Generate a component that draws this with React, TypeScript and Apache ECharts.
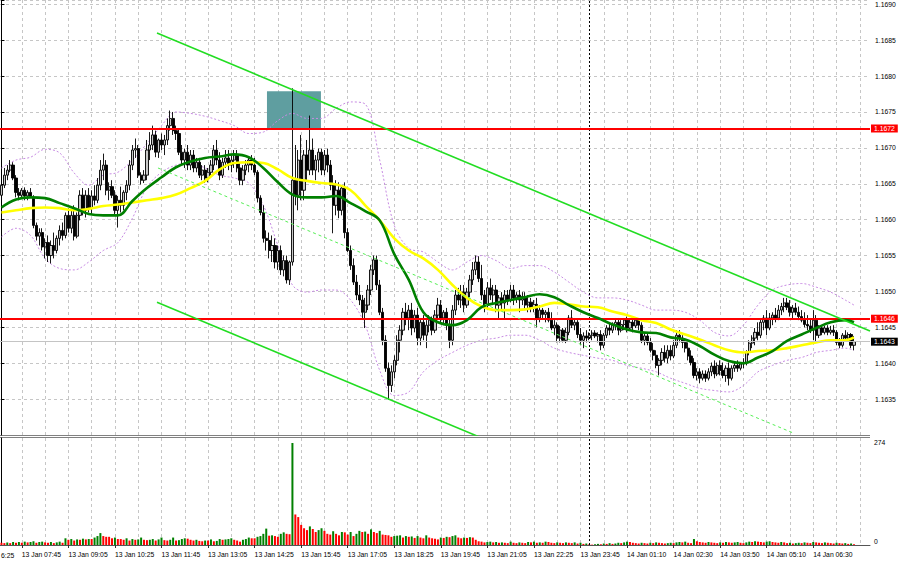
import React, { useEffect, useRef } from "react";
import * as echarts from "echarts";

// ---------- data (EURUSD M5, 13 Jan 07:10 – 14 Jan 07:40) ----------
const opens = [
1.16634,1.16648,1.16662,1.16669,1.16676,1.16658,1.16638,1.16634,1.16641,1.16633,
1.16638,1.16631,1.16592,1.16577,1.16582,1.16562,1.16568,1.16550,1.16564,1.16557,
1.16574,1.16585,1.16578,1.16606,1.16588,1.16606,1.16577,1.16606,1.16634,1.16613,
1.16634,1.16616,1.16633,1.16627,1.16648,1.16669,1.16676,1.16641,1.16646,1.16634,
1.16613,1.16627,1.16620,1.16638,1.16648,1.16676,1.16697,1.16699,1.16662,1.16655,
1.16662,1.16697,1.16704,1.16718,1.16694,1.16711,1.16704,1.16711,1.16731,1.16741,
1.16724,1.16720,1.16694,1.16683,1.16694,1.16676,1.16690,1.16672,1.16680,1.16662,
1.16669,1.16658,1.16666,1.16676,1.16697,1.16683,1.16662,1.16680,1.16686,1.16676,
1.16683,1.16690,1.16672,1.16655,1.16669,1.16676,1.16683,1.16676,1.16666,1.16630,
1.16610,1.16574,1.16571,1.16557,1.16564,1.16541,1.16557,1.16530,1.16543,1.16516,
1.16541,1.16655,1.16634,1.16683,1.16641,1.16690,1.16669,1.16697,1.16669,1.16683,
1.16694,1.16669,1.16690,1.16676,1.16648,1.16620,1.16641,1.16613,1.16644,1.16582,
1.16557,1.16536,1.16513,1.16495,1.16488,1.16471,1.16481,1.16502,1.16530,1.16544,
1.16509,1.16471,1.16432,1.16393,1.16369,1.16388,1.16404,1.16432,1.16446,1.16471,
1.16463,1.16474,1.16449,1.16467,1.16435,1.16457,1.16439,1.16453,1.16460,1.16446,
1.16467,1.16481,1.16463,1.16471,1.16453,1.16432,1.16474,1.16495,1.16488,1.16499,
1.16481,1.16499,1.16516,1.16530,1.16541,1.16518,1.16495,1.16481,1.16505,1.16495,
1.16502,1.16481,1.16491,1.16484,1.16495,1.16488,1.16502,1.16491,1.16495,1.16488,
1.16493,1.16481,1.16485,1.16477,1.16482,1.16463,1.16474,1.16468,1.16471,1.16460,
1.16449,1.16453,1.16435,1.16446,1.16432,1.16443,1.16463,1.16453,1.16457,1.16440,
1.16432,1.16438,1.16435,1.16439,1.16442,1.16438,1.16440,1.16425,1.16439,1.16449,
1.16446,1.16453,1.16457,1.16446,1.16454,1.16460,1.16449,1.16457,1.16452,1.16460,
1.16453,1.16432,1.16438,1.16429,1.16418,1.16411,1.16397,1.16404,1.16415,1.16407,
1.16418,1.16410,1.16425,1.16439,1.16435,1.16429,1.16421,1.16410,1.16401,1.16383,
1.16388,1.16379,1.16385,1.16379,1.16388,1.16396,1.16385,1.16397,1.16390,1.16383,
1.16393,1.16379,1.16393,1.16397,1.16393,1.16399,1.16401,1.16415,1.16428,1.16435,
1.16443,1.16439,1.16457,1.16463,1.16449,1.16463,1.16467,1.16463,1.16474,1.16479,
1.16484,1.16478,1.16471,1.16477,1.16471,1.16465,1.16460,1.16454,1.16452,1.16446,
1.16460,1.16439,1.16449,1.16443,1.16449,1.16443,1.16446,1.16443,1.16429,1.16425,
1.16439,1.16435,1.16440,1.16425
];
const highs = [
1.16658,1.16672,1.16676,1.16683,1.16680,1.16662,1.16644,1.16644,1.16645,1.16641,
1.16644,1.16634,1.16596,1.16588,1.16588,1.16574,1.16578,1.16571,1.16582,1.16578,
1.16592,1.16596,1.16610,1.16616,1.16613,1.16620,1.16610,1.16641,1.16644,1.16641,
1.16644,1.16641,1.16648,1.16658,1.16683,1.16692,1.16683,1.16652,1.16655,1.16641,
1.16633,1.16646,1.16641,1.16655,1.16683,1.16704,1.16713,1.16704,1.16666,1.16669,
1.16711,1.16722,1.16731,1.16724,1.16713,1.16720,1.16718,1.16741,1.16752,1.16750,
1.16731,1.16727,1.16704,1.16699,1.16704,1.16697,1.16697,1.16686,1.16686,1.16676,
1.16676,1.16672,1.16683,1.16704,1.16711,1.16694,1.16686,1.16697,1.16697,1.16690,
1.16697,1.16697,1.16680,1.16676,1.16683,1.16686,1.16690,1.16686,1.16669,1.16634,
1.16620,1.16585,1.16582,1.16578,1.16574,1.16564,1.16564,1.16550,1.16550,1.16543,
1.16783,1.16704,1.16697,1.16718,1.16697,1.16711,1.16745,1.16713,1.16690,1.16699,
1.16699,1.16697,1.16699,1.16683,1.16662,1.16655,1.16652,1.16648,1.16652,1.16588,
1.16564,1.16546,1.16523,1.16509,1.16495,1.16491,1.16509,1.16537,1.16550,1.16550,
1.16516,1.16477,1.16439,1.16401,1.16397,1.16411,1.16439,1.16453,1.16477,1.16484,
1.16481,1.16484,1.16474,1.16477,1.16463,1.16467,1.16460,1.16467,1.16465,1.16474,
1.16491,1.16488,1.16474,1.16477,1.16463,1.16481,1.16502,1.16505,1.16509,1.16509,
1.16505,1.16523,1.16541,1.16550,1.16549,1.16537,1.16502,1.16513,1.16518,1.16509,
1.16509,1.16495,1.16499,1.16502,1.16502,1.16509,1.16509,1.16499,1.16502,1.16499,
1.16499,1.16495,1.16491,1.16488,1.16491,1.16481,1.16477,1.16474,1.16477,1.16471,
1.16460,1.16457,1.16452,1.16449,1.16449,1.16467,1.16474,1.16463,1.16460,1.16449,
1.16443,1.16446,1.16443,1.16446,1.16446,1.16443,1.16446,1.16442,1.16453,1.16457,
1.16457,1.16463,1.16463,1.16460,1.16463,1.16465,1.16463,1.16463,1.16463,1.16463,
1.16457,1.16442,1.16443,1.16435,1.16428,1.16418,1.16407,1.16421,1.16425,1.16425,
1.16425,1.16432,1.16446,1.16446,1.16439,1.16435,1.16429,1.16418,1.16407,1.16393,
1.16393,1.16390,1.16390,1.16393,1.16401,1.16404,1.16401,1.16404,1.16401,1.16397,
1.16401,1.16397,1.16401,1.16404,1.16401,1.16407,1.16418,1.16432,1.16439,1.16449,
1.16457,1.16463,1.16467,1.16474,1.16470,1.16471,1.16477,1.16481,1.16484,1.16491,
1.16491,1.16488,1.16481,1.16484,1.16479,1.16474,1.16471,1.16467,1.16463,1.16474,
1.16467,1.16453,1.16453,1.16452,1.16453,1.16452,1.16453,1.16446,1.16435,1.16442,
1.16446,1.16443,1.16442,1.16438
];
const lows = [
1.16627,1.16644,1.16655,1.16666,1.16655,1.16631,1.16627,1.16630,1.16627,1.16627,
1.16630,1.16588,1.16571,1.16564,1.16557,1.16546,1.16541,1.16539,1.16546,1.16553,
1.16564,1.16571,1.16574,1.16582,1.16581,1.16571,1.16574,1.16599,1.16606,1.16603,
1.16610,1.16607,1.16620,1.16623,1.16641,1.16655,1.16634,1.16627,1.16630,1.16606,
1.16589,1.16610,1.16613,1.16627,1.16641,1.16669,1.16686,1.16658,1.16649,1.16651,
1.16655,1.16683,1.16697,1.16687,1.16686,1.16697,1.16690,1.16704,1.16724,1.16718,
1.16711,1.16690,1.16676,1.16672,1.16669,1.16669,1.16666,1.16666,1.16658,1.16655,
1.16651,1.16652,1.16662,1.16669,1.16676,1.16655,1.16658,1.16672,1.16669,1.16666,
1.16672,1.16666,1.16648,1.16648,1.16662,1.16666,1.16669,1.16662,1.16624,1.16606,
1.16568,1.16557,1.16546,1.16541,1.16532,1.16530,1.16523,1.16521,1.16511,1.16509,
1.16536,1.16620,1.16613,1.16627,1.16627,1.16655,1.16662,1.16662,1.16655,1.16666,
1.16662,1.16662,1.16666,1.16641,1.16581,1.16606,1.16602,1.16606,1.16574,1.16555,
1.16530,1.16509,1.16488,1.16481,1.16463,1.16449,1.16474,1.16495,1.16523,1.16502,
1.16467,1.16425,1.16388,1.16349,1.16360,1.16379,1.16397,1.16415,1.16439,1.16453,
1.16446,1.16439,1.16443,1.16425,1.16425,1.16432,1.16421,1.16443,1.16439,1.16442,
1.16460,1.16457,1.16453,1.16446,1.16421,1.16425,1.16467,1.16481,1.16477,1.16471,
1.16477,1.16492,1.16509,1.16523,1.16513,1.16488,1.16471,1.16474,1.16488,1.16481,
1.16471,1.16463,1.16474,1.16463,1.16481,1.16485,1.16481,1.16484,1.16471,1.16481,
1.16474,1.16471,1.16471,1.16471,1.16450,1.16457,1.16463,1.16457,1.16457,1.16446,
1.16439,1.16429,1.16429,1.16429,1.16428,1.16439,1.16449,1.16446,1.16435,1.16425,
1.16421,1.16429,1.16432,1.16432,1.16435,1.16429,1.16418,1.16421,1.16435,1.16439,
1.16442,1.16446,1.16439,1.16443,1.16446,1.16443,1.16446,1.16443,1.16449,1.16446,
1.16428,1.16425,1.16425,1.16415,1.16404,1.16393,1.16383,1.16397,1.16401,1.16400,
1.16404,1.16407,1.16421,1.16429,1.16421,1.16415,1.16404,1.16397,1.16379,1.16376,
1.16372,1.16376,1.16374,1.16376,1.16382,1.16379,1.16382,1.16383,1.16379,1.16374,
1.16369,1.16376,1.16388,1.16388,1.16390,1.16393,1.16397,1.16411,1.16421,1.16425,
1.16432,1.16435,1.16446,1.16439,1.16446,1.16453,1.16457,1.16460,1.16467,1.16471,
1.16474,1.16465,1.16463,1.16467,1.16460,1.16457,1.16450,1.16446,1.16442,1.16432,
1.16429,1.16435,1.16439,1.16440,1.16439,1.16440,1.16438,1.16425,1.16421,1.16422,
1.16432,1.16432,1.16421,1.16418
];
const closes = [
1.16648,1.16662,1.16669,1.16676,1.16658,1.16638,1.16634,1.16641,1.16633,1.16638,
1.16631,1.16592,1.16577,1.16582,1.16562,1.16568,1.16550,1.16564,1.16557,1.16574,
1.16585,1.16578,1.16606,1.16588,1.16606,1.16577,1.16606,1.16634,1.16613,1.16634,
1.16616,1.16633,1.16627,1.16648,1.16669,1.16676,1.16641,1.16646,1.16634,1.16613,
1.16627,1.16620,1.16638,1.16648,1.16676,1.16697,1.16699,1.16662,1.16655,1.16662,
1.16697,1.16704,1.16718,1.16694,1.16711,1.16704,1.16711,1.16731,1.16741,1.16724,
1.16720,1.16694,1.16683,1.16694,1.16676,1.16690,1.16672,1.16680,1.16662,1.16669,
1.16658,1.16666,1.16676,1.16697,1.16683,1.16662,1.16680,1.16686,1.16676,1.16683,
1.16690,1.16672,1.16655,1.16669,1.16676,1.16683,1.16676,1.16666,1.16630,1.16610,
1.16574,1.16571,1.16557,1.16564,1.16541,1.16557,1.16530,1.16543,1.16516,1.16541,
1.16655,1.16634,1.16683,1.16641,1.16690,1.16669,1.16697,1.16669,1.16683,1.16694,
1.16669,1.16690,1.16676,1.16648,1.16620,1.16641,1.16613,1.16644,1.16582,1.16557,
1.16536,1.16513,1.16495,1.16488,1.16471,1.16481,1.16502,1.16530,1.16544,1.16509,
1.16471,1.16432,1.16393,1.16369,1.16388,1.16404,1.16432,1.16446,1.16471,1.16463,
1.16474,1.16449,1.16467,1.16435,1.16457,1.16439,1.16453,1.16460,1.16446,1.16467,
1.16481,1.16463,1.16471,1.16453,1.16432,1.16474,1.16495,1.16488,1.16499,1.16481,
1.16499,1.16516,1.16530,1.16541,1.16518,1.16495,1.16481,1.16505,1.16495,1.16502,
1.16481,1.16491,1.16484,1.16495,1.16488,1.16502,1.16491,1.16495,1.16488,1.16493,
1.16481,1.16485,1.16477,1.16482,1.16463,1.16474,1.16468,1.16471,1.16460,1.16449,
1.16453,1.16435,1.16446,1.16432,1.16443,1.16463,1.16453,1.16457,1.16440,1.16432,
1.16438,1.16435,1.16439,1.16442,1.16438,1.16440,1.16425,1.16439,1.16449,1.16446,
1.16453,1.16457,1.16446,1.16454,1.16460,1.16449,1.16457,1.16452,1.16460,1.16453,
1.16432,1.16438,1.16429,1.16418,1.16411,1.16397,1.16404,1.16415,1.16407,1.16418,
1.16410,1.16425,1.16439,1.16435,1.16429,1.16421,1.16410,1.16401,1.16383,1.16388,
1.16379,1.16385,1.16379,1.16388,1.16396,1.16385,1.16397,1.16390,1.16383,1.16393,
1.16379,1.16393,1.16397,1.16393,1.16399,1.16401,1.16415,1.16428,1.16435,1.16443,
1.16439,1.16457,1.16463,1.16449,1.16463,1.16467,1.16463,1.16474,1.16479,1.16484,
1.16478,1.16471,1.16477,1.16471,1.16465,1.16460,1.16454,1.16452,1.16446,1.16460,
1.16439,1.16449,1.16443,1.16449,1.16443,1.16446,1.16443,1.16429,1.16425,1.16439,
1.16435,1.16440,1.16425,1.16430
];
const volumes = [
6,5,7,5,8,6,8,6,9,7,8,10,6,8,9,7,6,8,5,7,
9,6,18,14,16,12,15,14,17,15,16,16,20,24,32,24,22,22,18,20,
16,16,14,18,12,16,14,15,20,14,13,14,16,12,15,20,13,12,14,20,
12,13,16,18,17,14,12,14,11,10,12,12,15,10,11,16,14,15,16,18,
14,12,9,14,16,20,18,18,22,24,30,44,25,26,24,22,30,34,30,29,
274,82,75,54,45,40,50,43,35,40,45,38,30,28,37,30,26,35,34,28,
35,24,30,38,35,36,30,42,35,32,38,28,27,26,22,24,25,26,20,24,
22,23,19,24,20,18,26,20,18,17,15,20,19,22,21,24,26,20,18,20,
19,21,20,14,10,9,7,8,9,7,8,6,7,6,5,9,6,5,7,6,
5,8,7,9,6,7,6,9,8,6,5,7,6,5,7,6,5,7,4,6,
3,4,2,1,2,3,2,4,3,5,3,4,6,5,7,9,8,6,5,4,
6,5,4,6,5,7,6,5,4,5,6,5,7,8,7,9,6,5,16,10,
8,7,6,8,7,6,5,7,6,8,7,6,7,8,6,5,7,9,8,10,
9,8,7,9,10,8,7,6,8,7,5,6,4,5,6,5,7,6,5,8,
7,6,5,7,6,5,4,6,5,4,5,3,4,2
];

// indicator lines, sampled at bar indices
const maIndex = [0,5,10,15,20,25,30,35,40,45,50,55,60,65,70,75,80,85,90,95,100,105,110,115,120,125,130,135,140,145,150,155,160,165,170,175,180,185,190,195,200,205,210,215,220,225,230,235,240,245,250,255,260,265,270,275,280,285,290,293];
const maGreen = [
1.16617,1.16628,1.16631,1.16630,1.16623,1.16616,1.16608,1.16606,1.16606,1.16626,
1.16644,1.16659,1.16673,1.16681,1.16686,1.16688,1.16691,1.16687,1.16672,1.16652,
1.16635,1.16631,1.16631,1.16633,1.16623,1.16612,1.16599,1.16552,1.16516,1.16471,
1.16457,1.16453,1.16460,1.16478,1.16484,1.16488,1.16492,1.16496,1.16492,1.16481,
1.16471,1.16463,1.16454,1.16447,1.16443,1.16442,1.16436,1.16433,1.16424,1.16412,
1.16403,1.16400,1.16408,1.16417,1.16431,1.16440,1.16449,1.16457,1.16460,1.16457
];
const maYellow = [
1.16610,1.16613,1.16616,1.16617,1.16616,1.16613,1.16615,1.16619,1.16621,1.16624,
1.16627,1.16630,1.16635,1.16644,1.16654,1.16670,1.16679,1.16680,1.16679,1.16670,
1.16658,1.16654,1.16651,1.16649,1.16641,1.16620,1.16599,1.16574,1.16557,1.16546,
1.16530,1.16509,1.16491,1.16479,1.16474,1.16474,1.16475,1.16479,1.16484,1.16482,
1.16479,1.16478,1.16472,1.16467,1.16460,1.16456,1.16447,1.16440,1.16433,1.16425,
1.16418,1.16415,1.16417,1.16418,1.16421,1.16425,1.16429,1.16432,1.16432,1.16436
];
const bandUpper = [
1.16672,1.16683,1.16687,1.16698,1.16693,1.16665,1.16648,1.16662,1.16666,1.16683,
1.16706,1.16731,1.16750,1.16748,1.16744,1.16738,1.16731,1.16720,1.16722,1.16738,
1.16748,1.16741,1.16741,1.16755,1.16764,1.16761,1.16683,1.16592,1.16560,1.16555,
1.16541,1.16530,1.16541,1.16550,1.16543,1.16532,1.16536,1.16536,1.16527,1.16513,
1.16499,1.16491,1.16491,1.16488,1.16481,1.16474,1.16474,1.16471,1.16460,1.16443,
1.16438,1.16453,1.16481,1.16502,1.16509,1.16511,1.16506,1.16499,1.16488,1.16481
];
const bandLower = [
1.16576,1.16588,1.16578,1.16546,1.16532,1.16530,1.16541,1.16557,1.16568,1.16602,
1.16645,1.16666,1.16676,1.16679,1.16672,1.16662,1.16658,1.16651,1.16620,1.16564,
1.16509,1.16499,1.16502,1.16502,1.16488,1.16453,1.16390,1.16355,1.16360,1.16388,
1.16404,1.16415,1.16425,1.16432,1.16435,1.16439,1.16439,1.16432,1.16421,1.16415,
1.16411,1.16407,1.16404,1.16397,1.16393,1.16388,1.16379,1.16372,1.16365,1.16362,
1.16360,1.16369,1.16388,1.16397,1.16404,1.16408,1.16415,1.16418,1.16421,1.16418
];

// axis labels
const timeLabels = [
"13 Jan 07:45","13 Jan 09:05","13 Jan 10:25","13 Jan 11:45","13 Jan 13:05","13 Jan 14:25",
"13 Jan 15:45","13 Jan 17:05","13 Jan 18:25","13 Jan 19:45","13 Jan 21:05","13 Jan 22:25",
"13 Jan 23:45","14 Jan 01:10","14 Jan 02:30","14 Jan 03:50","14 Jan 05:10","14 Jan 06:30"
];
const leftEdgeLabel = "6:25"; // visible tail of "13 Jan 06:25" at the left edge

// analyst drawings (bar index, price)
const resistanceLevel = 1.16727;
const supportLevel = 1.16462;
const bidPrice = 1.1643;
const channelUpperPts = [[53.45, 1.1686], [298.5, 1.16445]];
const channelLowerPts = [[53.45, 1.16485], [170, 1.162875]];
const channelMidPts = [[53.8, 1.16672], [272, 1.16303]];
const zoneX = [91.25, 109.8];
const zoneY = [1.16779, 1.16727];
const daySeparatorIndex = 202;

const SLOT_COUNT = 299;
const LABEL_FIRST = 7;
const LABEL_STEP = 16;
const GRID_STEP = 8;
const PRICE_MIN = 1.163;
const PRICE_MAX = 1.16906;
const VOL_MAX = 287.4;

const FONT = '"Liberation Sans", Arial, sans-serif';
const FS = 6.8;

export default function App() {
  const ref = useRef<HTMLDivElement>(null);
  useEffect(() => {
    const chart = echarts.init(ref.current!, null, { renderer: "svg" });
    const slots = Array.from({ length: SLOT_COUNT }, (_, i) => String(i));
    const candleData = opens.map((o, i) => [o, closes[i], lows[i], highs[i]]);
    const pair = (xs: number[], ys: number[]) => xs.map((x, i) => [x, ys[i]]);
    const isLabel = (i: number) =>
      i >= LABEL_FIRST && (i - LABEL_FIRST) % LABEL_STEP === 0 && (i - LABEL_FIRST) / LABEL_STEP < timeLabels.length;
    const isGrid = (i: number) => i >= LABEL_FIRST && (i - LABEL_FIRST) % GRID_STEP === 0;
    const trunc4 = (v: number) => (Math.floor(v * 10000 + 1e-6) / 10000).toFixed(4);
    const gridSplit: any = {
      show: true,
      interval: (i: number) => isGrid(i),
      alignWithLabel: true,
      lineStyle: { color: "#c6c6c6", type: [3, 3], width: 1 },
    };
    const levelLabel = (bg: string, v: number) => ({
      show: true,
      position: "end",
      distance: 1,
      formatter: trunc4(v),
      color: "#ffffff",
      backgroundColor: bg,
      padding: [1, 3, 0, 3],
      fontSize: FS,
      fontFamily: FONT,
    });
    const sepItem = () => ({
      xAxis: daySeparatorIndex,
      lineStyle: { color: "#000000", type: [2, 2], width: 1 },
      label: { show: false },
    });

    const option: any = {
      animation: false,
      backgroundColor: "#ffffff",
      textStyle: { fontFamily: FONT },
      grid: [
        { left: 0, top: 0, width: 870, height: 435 },
        { left: 0, top: 438, width: 870, height: 107 },
      ],
      xAxis: [
        {
          type: "category", gridIndex: 0, data: slots, boundaryGap: true,
          axisLine: { show: false }, axisTick: { show: false }, axisLabel: { show: false },
          splitLine: gridSplit,
        },
        { type: "value", gridIndex: 0, min: -0.5, max: SLOT_COUNT - 0.5, show: false },
        {
          type: "category", gridIndex: 1, data: slots, boundaryGap: true,
          axisLine: { show: true, lineStyle: { color: "#555555", width: 1 } },
          axisTick: { show: true, interval: (i: number) => isLabel(i), alignWithLabel: true, length: 3, lineStyle: { color: "#333333" } },
          axisLabel: {
            show: true,
            interval: (i: number) => isLabel(i),
            formatter: (_v: string, i: number) => (isLabel(i) ? timeLabels[(i - LABEL_FIRST) / LABEL_STEP] : ""),
            align: "left",
            margin: 6,
            fontSize: FS,
            color: "#000000",
            fontFamily: FONT,
          },
          splitLine: gridSplit,
        },
        { type: "value", gridIndex: 1, min: -0.5, max: SLOT_COUNT - 0.5, show: false },
      ],
      yAxis: [
        {
          type: "value", gridIndex: 0, position: "right", min: PRICE_MIN, max: PRICE_MAX, interval: 0.0005,
          axisLine: { show: true, lineStyle: { color: "#000000", width: 1 } },
          axisTick: { show: true, length: 3, lineStyle: { color: "#000000" } },
          axisLabel: {
            show: true, showMinLabel: false, margin: 5, fontSize: FS, color: "#000000", fontFamily: FONT,
            formatter: (v: number) => {
              const k = v / 0.0005;
              return Math.abs(k - Math.round(k)) < 1e-3 ? v.toFixed(4) : "";
            },
          },
          splitLine: { show: true, lineStyle: { color: "#c6c6c6", type: [3, 3], width: 1 } },
        },
        {
          type: "value", gridIndex: 1, position: "right", min: 0, max: VOL_MAX,
          axisLine: { show: true, lineStyle: { color: "#000000", width: 1 } },
          axisTick: { show: false }, axisLabel: { show: false }, splitLine: { show: false },
        },
      ],
      series: [
        {
          name: "zone", type: "line", xAxisIndex: 1, yAxisIndex: 0, z: 1,
          data: [[zoneX[0], zoneY[1]]], symbol: "none", lineStyle: { opacity: 0 }, silent: true,
          markArea: {
            silent: true,
            itemStyle: { color: "#5f9ea0", opacity: 1 },
            data: [[{ coord: [zoneX[0], zoneY[0]] }, { coord: [zoneX[1], zoneY[1]] }]],
          },
        },
        {
          name: "bandUpper", type: "line", xAxisIndex: 1, yAxisIndex: 0, z: 2,
          data: pair(maIndex, bandUpper), symbol: "none", smooth: 0.35, silent: true,
          lineStyle: { color: "#c78be3", width: 1, type: [2, 2] },
        },
        {
          name: "bandLower", type: "line", xAxisIndex: 1, yAxisIndex: 0, z: 2,
          data: pair(maIndex, bandLower), symbol: "none", smooth: 0.35, silent: true,
          lineStyle: { color: "#c78be3", width: 1, type: [2, 2] },
        },
        {
          name: "EURUSD", type: "candlestick", xAxisIndex: 0, yAxisIndex: 0, z: 3,
          data: candleData, barWidth: 2.7,
          itemStyle: { color: "#c8c8c8", color0: "#000000", borderColor: "#000000", borderColor0: "#000000", borderWidth: 0.9 },
          markLine: {
            silent: true,
            precision: 6,
            symbol: ["none", "none"],
            data: [
              sepItem(),
              { yAxis: bidPrice, lineStyle: { color: "#c4c4c4", width: 1, type: "solid" }, label: levelLabel("#000000", bidPrice) },
              { yAxis: resistanceLevel, lineStyle: { color: "#ff0000", width: 2, type: "solid" }, label: levelLabel("#ff0000", resistanceLevel) },
              { yAxis: supportLevel, lineStyle: { color: "#ff0000", width: 2, type: "solid" }, label: levelLabel("#ff0000", supportLevel) },
            ],
          },
        },
        {
          name: "maYellow", type: "line", xAxisIndex: 1, yAxisIndex: 0, z: 4,
          data: pair(maIndex, maYellow), symbol: "none", smooth: 0.4, silent: true,
          lineStyle: { color: "#ffff00", width: 2.6 },
        },
        {
          name: "maGreen", type: "line", xAxisIndex: 1, yAxisIndex: 0, z: 5,
          data: pair(maIndex, maGreen), symbol: "none", smooth: 0.4, silent: true,
          lineStyle: { color: "#008000", width: 2.6 },
        },
        {
          name: "channelMid", type: "line", xAxisIndex: 1, yAxisIndex: 0, z: 5,
          data: channelMidPts, symbol: "none", silent: true,
          lineStyle: { color: "#55ee55", width: 1, type: [3, 3] },
        },
        {
          name: "channelLower", type: "line", xAxisIndex: 1, yAxisIndex: 0, z: 6,
          data: channelLowerPts, symbol: "none", silent: true, clip: true,
          lineStyle: { color: "#22dd22", width: 1.6 },
        },
        {
          name: "channelUpper", type: "line", xAxisIndex: 1, yAxisIndex: 0, z: 6,
          data: channelUpperPts, symbol: "none", silent: true, clip: true,
          lineStyle: { color: "#22dd22", width: 1.6 },
        },
        {
          name: "Volumes", type: "bar", xAxisIndex: 2, yAxisIndex: 1, barWidth: 2,
          data: volumes.map((v, i) => ({
            value: v,
            itemStyle: { color: i > 0 && v > volumes[i - 1] ? "#008000" : "#ff0000" },
          })),
          markLine: {
            silent: true,
            symbol: ["none", "none"],
            data: [sepItem()],
          },
        },
      ],
    };
    chart.setOption(option);

    const volMax = Math.max(...volumes);
    const yMax = chart.convertToPixel({ yAxisIndex: 1 }, volMax) as number;
    const yZero = chart.convertToPixel({ yAxisIndex: 1 }, 0) as number;
    chart.setOption({
      graphic: [
        { type: "line", silent: true, shape: { x1: 0, y1: 435.5, x2: 870, y2: 435.5 }, style: { stroke: "#808080", lineWidth: 1 } },
        { type: "line", silent: true, shape: { x1: 0, y1: 437.5, x2: 870, y2: 437.5 }, style: { stroke: "#808080", lineWidth: 1 } },
        { type: "text", silent: true, x: 874, y: yMax, style: { text: String(volMax), fontSize: FS, fontFamily: FONT, fill: "#000000", align: "left", verticalAlign: "middle" } },
        { type: "text", silent: true, x: 874, y: yZero - 4, style: { text: "0", fontSize: FS, fontFamily: FONT, fill: "#000000", align: "left", verticalAlign: "middle" } },
        { type: "text", silent: true, x: 1, y: 555, style: { text: leftEdgeLabel, fontSize: FS, fontFamily: FONT, fill: "#000000", align: "left", verticalAlign: "middle" } },
      ],
    });
    return () => chart.dispose();
  }, []);
  return (
    <div
      ref={ref}
      style={{ position: "fixed", left: 0, top: 0, width: 900, height: 562, background: "#ffffff" }}
    />
  );
}
